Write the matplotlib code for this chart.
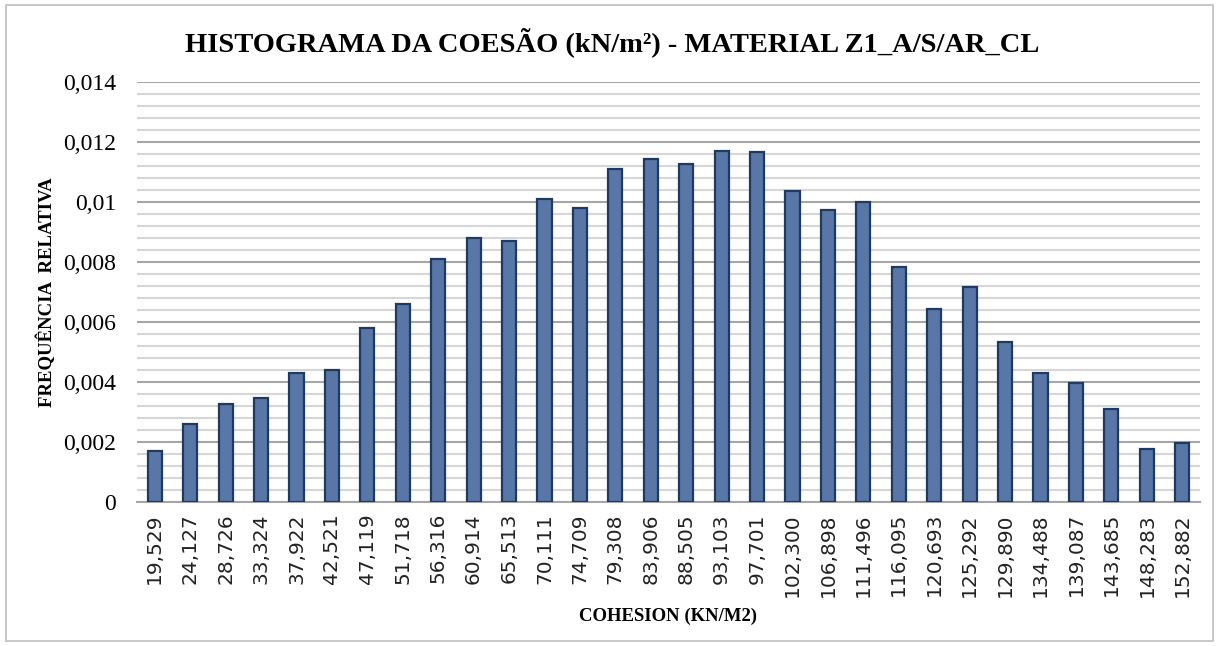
import numpy as np
import matplotlib.pyplot as plt
from matplotlib.patches import Rectangle
from matplotlib.ticker import MultipleLocator, FuncFormatter

classes = ["19,529", "24,127", "28,726", "33,324", "37,922", "42,521", "47,119",
           "51,718", "56,316", "60,914", "65,513", "70,111", "74,709", "79,308",
           "83,906", "88,505", "93,103", "97,701", "102,300", "106,898", "111,496",
           "116,095", "120,693", "125,292", "129,890", "134,488", "139,087",
           "143,685", "148,283", "152,882"]
freq = [0.00171, 0.00260, 0.00327, 0.00348, 0.00431, 0.00441, 0.00581, 0.00659,
        0.00809, 0.00881, 0.00871, 0.01010, 0.00980, 0.01109, 0.01144, 0.01126,
        0.01171, 0.01166, 0.01037, 0.00974, 0.01001, 0.00783, 0.00643, 0.00716,
        0.00534, 0.00430, 0.00396, 0.00311, 0.00177, 0.00198]

fig = plt.figure(figsize=(12.19, 6.46), dpi=100)
ax = fig.add_axes([0.1124, 0.2229, 0.872, 0.6502])

x = np.arange(len(classes))
ax.bar(x, freq, width=0.4, color="#5977a6", edgecolor="#1c3a63", linewidth=1.6, zorder=3)

ax.set_xlim(-0.5, len(classes) - 0.5)
ax.set_ylim(0, 0.014)
ax.yaxis.set_major_locator(MultipleLocator(0.002))
ax.yaxis.set_minor_locator(MultipleLocator(0.0004))
ax.grid(which="major", axis="y", color="#a6a6a6", linewidth=1.5, zorder=0)
ax.grid(which="minor", axis="y", color="#d6d6d6", linewidth=1.5, zorder=0)


def virgula(v, pos):
    s = f"{v:.3f}".rstrip("0").rstrip(".")
    return s.replace(".", ",")


ax.yaxis.set_major_formatter(FuncFormatter(virgula))
ax.set_xticks(x)
ax.set_xticklabels(classes, rotation=90, fontsize=14.5, family="DejaVu Sans", color="#222222")
for lab in ax.get_yticklabels():
    lab.set_family("Liberation Serif")
    lab.set_fontsize(17)
ax.tick_params(axis="both", which="both", length=0)
ax.tick_params(axis="x", pad=8)
ax.tick_params(axis="y", pad=15)

for s in ["top", "right", "left"]:
    ax.spines[s].set_visible(False)
ax.spines["bottom"].set_color("#a6a6a6")
ax.spines["bottom"].set_linewidth(1.5)

ax.set_ylabel("FREQUÊNCIA  RELATIVA", family="Liberation Serif", fontweight="bold",
              fontsize=13.5, labelpad=5)
ax.set_xlabel("COHESION (KN/M2)", family="Liberation Serif", fontweight="bold",
              fontsize=13.5, labelpad=8)
fig.text(0.502, 0.935, "HISTOGRAMA DA COESÃO (kN/m²) - MATERIAL Z1_A/S/AR_CL",
         ha="center", va="center", family="Liberation Serif", fontweight="bold", fontsize=20.5)

fig.patches.append(Rectangle((0.005, 0.008), 0.99, 0.985, transform=fig.transFigure,
                             fill=False, edgecolor="#bfbfbf", linewidth=1.2))

fig.savefig("out.png", dpi=100)
